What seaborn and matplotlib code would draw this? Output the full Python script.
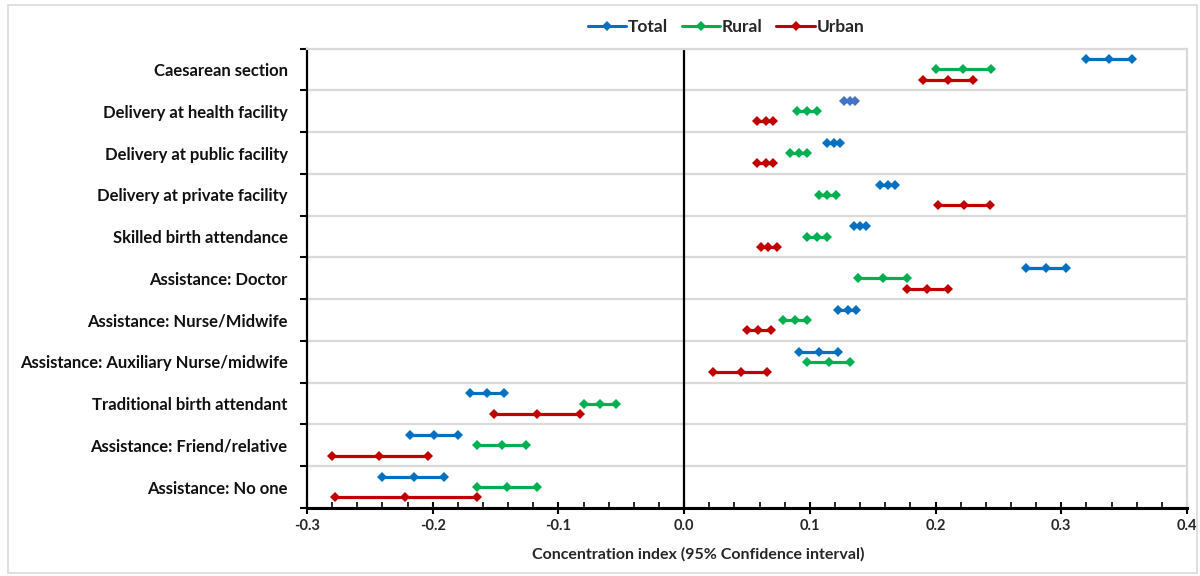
import numpy as np
import pandas as pd
import matplotlib
matplotlib.use("Agg")
import matplotlib.pyplot as plt
from matplotlib.lines import Line2D
from matplotlib.patches import Rectangle
from matplotlib.ticker import MultipleLocator, FixedLocator
import seaborn as sns

categories = [
    "Caesarean section",
    "Delivery at health facility",
    "Delivery at public facility",
    "Delivery at private facility",
    "Skilled birth attendance",
    "Assistance: Doctor",
    "Assistance: Nurse/Midwife",
    "Assistance: Auxiliary Nurse/midwife",
    "Traditional birth attendant",
    "Assistance: Friend/relative",
    "Assistance: No one",
]

total_lo = [0.320, 0.127, 0.114, 0.156, 0.135, 0.272, 0.122, 0.091, -0.170, -0.218, -0.240]
total_est = [0.338, 0.132, 0.119, 0.162, 0.140, 0.288, 0.130, 0.107, -0.157, -0.199, -0.215]
total_hi = [0.356, 0.136, 0.124, 0.168, 0.145, 0.304, 0.137, 0.122, -0.143, -0.180, -0.191]

rural_lo = [0.200, 0.090, 0.084, 0.107, 0.098, 0.138, 0.079, 0.098, -0.080, -0.165, -0.165]
rural_est = [0.222, 0.098, 0.091, 0.114, 0.106, 0.158, 0.088, 0.115, -0.067, -0.145, -0.141]
rural_hi = [0.244, 0.106, 0.098, 0.121, 0.114, 0.177, 0.098, 0.132, -0.054, -0.126, -0.117]

urban_lo = [0.190, 0.058, 0.058, 0.202, 0.061, 0.177, 0.050, 0.023, -0.151, -0.280, -0.278]
urban_est = [0.210, 0.065, 0.065, 0.223, 0.067, 0.193, 0.059, 0.045, -0.117, -0.243, -0.222]
urban_hi = [0.230, 0.071, 0.071, 0.243, 0.074, 0.210, 0.069, 0.066, -0.083, -0.204, -0.165]

groups = ["Total", "Rural", "Urban"]
colors = {"Total": "#0070C0", "Rural": "#00B050", "Urban": "#C00000", "Total*": "#4472C4"}
offsets = {"Total": -0.245, "Rural": 0.0, "Urban": 0.245}

series = {
    "Total": (total_lo, total_est, total_hi),
    "Rural": (rural_lo, rural_est, rural_hi),
    "Urban": (urban_lo, urban_est, urban_hi),
}

rows = []
for g in groups:
    lo, est, hi = series[g]
    for i, cat in enumerate(categories):
        hue = g
        if g == "Total" and cat == "Delivery at health facility":
            hue = "Total*"
        for v in (lo[i], est[i], hi[i]):
            rows.append({"category": cat, "group": g, "hue": hue,
                         "unit": f"{g}-{i}", "value": v, "ypos": i + offsets[g]})
df = pd.DataFrame(rows)

sns.set_theme(style="white")
plt.rcParams["font.family"] = ["Lato", "DejaVu Sans"]
plt.rcParams["font.weight"] = "bold"

fig = plt.figure(figsize=(12, 5.76), dpi=100)
ax = fig.add_axes([307 / 1200, 1 - 508 / 576, 880 / 1200, (508 - 48.6) / 576])

sns.lineplot(data=df, x="value", y="ypos", hue="hue", units="unit", estimator=None,
             palette=colors, marker="D", markersize=5.6, markeredgewidth=0,
             linewidth=2.3, sort=True, legend=False, ax=ax)

ax.set_xlim(-0.3, 0.4)
ax.set_ylim(len(categories) - 0.5, -0.5)

# zero line
ax.axvline(0, color="black", linewidth=1.6, zorder=1)

# y axis
ax.yaxis.set_major_locator(FixedLocator(np.arange(len(categories))))
ax.set_yticklabels(categories, fontsize=12, fontweight="bold", color="#111111")
ax.yaxis.set_minor_locator(FixedLocator(np.arange(len(categories) + 1) - 0.5))
ax.tick_params(axis="y", which="major", length=0, pad=14)
ax.tick_params(axis="y", which="minor", length=5, width=1.5, direction="out", color="black", left=True)
ax.grid(axis="y", which="minor", color="#d9d9d9", linewidth=1.6)
ax.set_ylabel("")

# x axis
ax.xaxis.set_major_locator(MultipleLocator(0.1))
ax.xaxis.set_minor_locator(MultipleLocator(0.02))
ax.set_xticks(np.round(np.arange(-0.3, 0.41, 0.1), 1))
ax.set_xticklabels([f"{v:.1f}" for v in np.round(np.arange(-0.3, 0.41, 0.1), 1)],
                   fontsize=10.5, fontweight="bold")
ax.tick_params(axis="x", which="major", length=8, width=1.5, direction="inout", color="black", bottom=True, pad=4)
ax.tick_params(axis="x", which="minor", length=4, width=1.2, direction="in", color="black", bottom=True)
ax.set_xlabel("Concentration index (95% Confidence interval)", fontsize=11.5, fontweight="bold")
ax.xaxis.set_label_coords((698 - 307) / 880, -0.085)

for side in ("top", "right"):
    ax.spines[side].set_color("#d9d9d9")
    ax.spines[side].set_linewidth(1.6)
ax.spines["left"].set_color("black")
ax.spines["left"].set_linewidth(1.6)
ax.spines["bottom"].set_color("black")
ax.spines["bottom"].set_linewidth(2.2)
ax.set_axisbelow(True)

handles = [Line2D([0], [0], color=colors[g], marker="D", markersize=5, markeredgewidth=0,
                  linewidth=2.2) for g in groups]
fig.legend(handles, groups, loc="center", bbox_to_anchor=(726 / 1200, 1 - 27 / 576), ncol=3,
           frameon=False, prop={"size": 12.5, "weight": "bold"}, handlelength=2.2,
           handletextpad=0.1, columnspacing=0.8)

fig.patches.append(Rectangle((8 / 1200, 3 / 576), 1189 / 1200, 568 / 576, transform=fig.transFigure,
                             fill=False, edgecolor="#d9d9d9", linewidth=1.2))

fig.savefig("out.png", dpi=100)
